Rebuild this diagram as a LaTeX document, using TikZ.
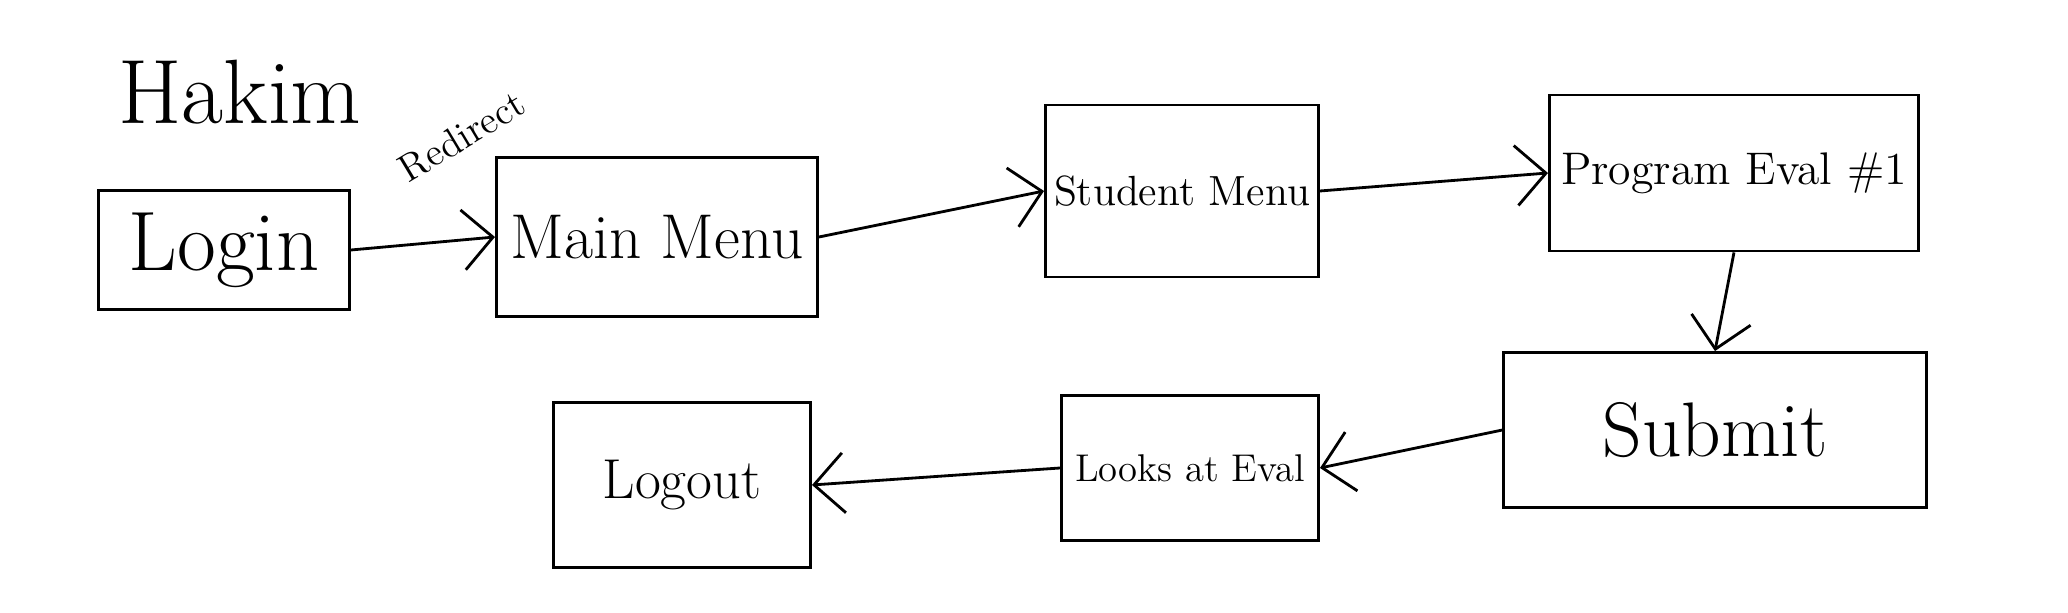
\documentclass[tikz,border=0pt]{standalone}
\usetikzlibrary{arrows.meta}
\tikzset{
  screen/.style={draw, line width=0.8pt, inner sep=0pt},
  flow/.style={-{Straight Barb[length=3mm,width=6mm]}, line width=0.8pt}
}
\begin{document}
\begin{tikzpicture}[x=0.01cm,y=-0.01cm]
  \useasboundingbox (0,0) rectangle (2068,613);
  \node[font=\fontsize{26}{30}\selectfont] (hakim) at (240,92) {Hakim};
  \node[screen, minimum width=2.51cm, minimum height=1.19cm,
        font=\fontsize{24}{28}\selectfont] (login) at (224,250) {Login};
  \node[screen, minimum width=3.21cm, minimum height=1.59cm,
        font=\fontsize{18}{22}\selectfont] (mainmenu) at (657,237) {Main Menu};
  \node[screen, minimum width=2.73cm, minimum height=1.72cm,
        font=\fontsize{12}{15}\selectfont] (studentmenu) at (1182,191) {Student Menu};
  \node[screen, minimum width=3.69cm, minimum height=1.56cm,
        font=\fontsize{13}{16}\selectfont] (progeval) at (1734,173) {Program Eval \#1};
  \node[screen, minimum width=4.22cm, minimum height=1.55cm,
        font=\fontsize{22}{26}\selectfont] (submit) at (1715,430) {Submit};
  \node[screen, minimum width=2.57cm, minimum height=1.45cm,
        font=\fontsize{11}{14}\selectfont] (looks) at (1190,468) {Looks at Eval};
  \node[screen, minimum width=2.57cm, minimum height=1.65cm,
        font=\fontsize{16}{19}\selectfont] (logout) at (682,485) {Logout};
  \node[rotate=31, font=\fontsize{11}{13}\selectfont] (redirect) at (462,136) {Redirect};

  \draw[flow] (login.east) -- (mainmenu.west);
  \draw[flow] (mainmenu.east) -- (studentmenu.west);
  \draw[flow] (studentmenu.east) -- (progeval.west);
  \draw[flow] (progeval.south) -- (submit.north);
  \draw[flow] (submit.west) -- (looks.east);
  \draw[flow] (looks.west) -- (logout.east);
\end{tikzpicture}
\end{document}
